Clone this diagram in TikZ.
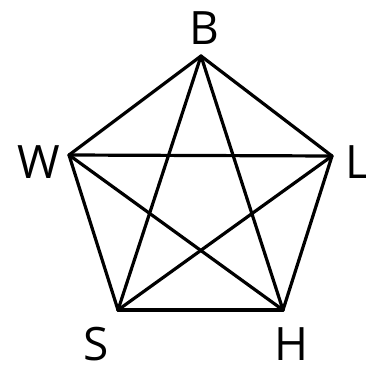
\documentclass[tikz,border=0pt]{standalone}
\usepackage{fontspec}
\setmainfont{Open Sans}
\begin{document}
\begin{tikzpicture}[x=1pt,y=-1pt,
  edge/.style={line width=3.2pt,line cap=round},
  lab/.style={inner sep=0pt,font=\fontsize{46}{46}\selectfont}]
\useasboundingbox (0,0) rectangle (366,369);
\coordinate (b) at (201,56);
\coordinate (l) at (332,156);
\coordinate (h) at (283,310);
\coordinate (s) at (118,310);
\coordinate (w) at (69,155);
\node[lab] (B) at (204,28) {B};
\node[lab] (W) at (38.5,162) {W};
\node[lab] (L) at (357,162) {L};
\node[lab] (S) at (96,344) {S};
\node[lab] (H) at (291,344) {H};
\foreach \p/\q in {b/l,l/h,h/s,s/w,w/b,b/h,b/s,l/s,l/w,w/h}
  \draw[edge] (\p) -- (\q);
\end{tikzpicture}
\end{document}
